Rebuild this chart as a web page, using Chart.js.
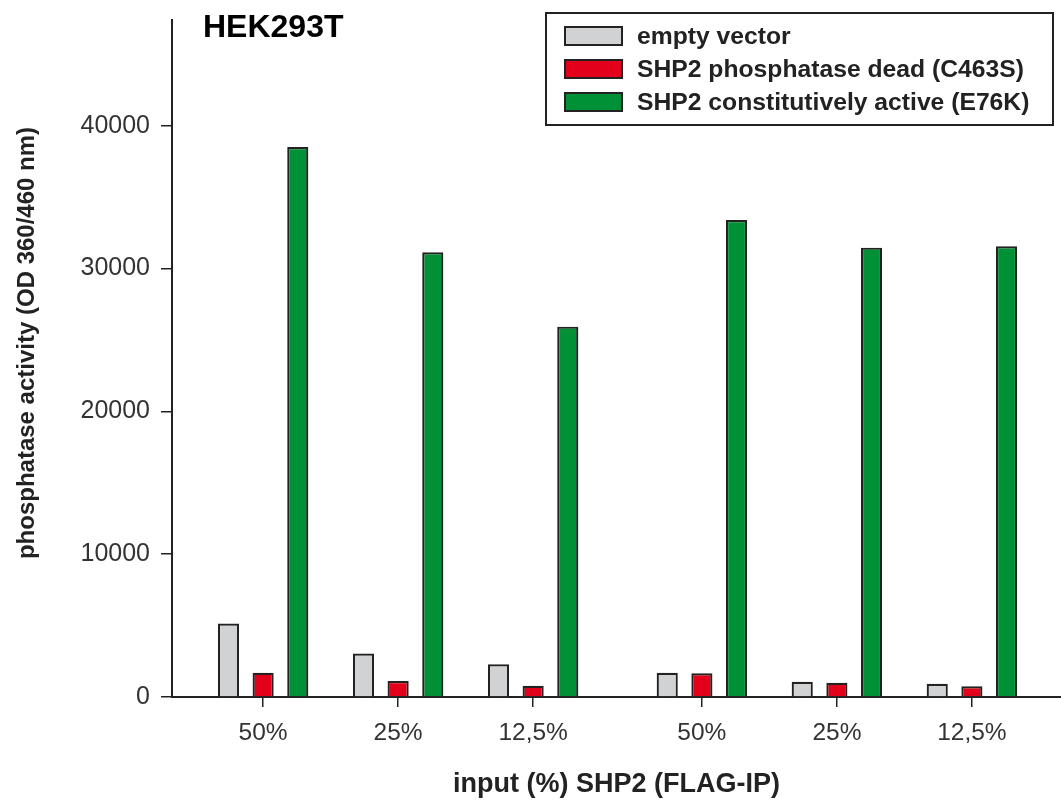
<!DOCTYPE html>
<html>
<head>
<meta charset="utf-8">
<script src="https://cdn.jsdelivr.net/npm/chart.js@4/dist/chart.umd.min.js"></script>
<style>
  html, body { margin: 0; padding: 0; background: #ffffff; }
  #wrap { width: 1061px; height: 803px; }
</style>
</head>
<body>
<div id="wrap"><canvas id="chart" width="1061" height="803"></canvas></div>
<script>
// Input amounts of precipitated SHP2 (two independent series of dilutions)
const categories = ['50%', '25%', '12,5%', '50%', '25%', '12,5%'];
// Positions along the x axis: the second dilution series sits a little apart
const positions = [0, 1, 2, 3.25, 4.25, 5.25];

// Phosphatase activity (OD 360/460 nm)
const emptyVector = [5150, 3050, 2290, 1700, 1070, 930];
const phosphataseDead = [1700, 1120, 790, 1660, 1000, 750];
const constitutivelyActive = [38500, 31140, 25930, 33400, 31460, 31560];

const yTicks = [0, 10000, 20000, 30000, 40000];
const seriesNames = ['empty vector', 'SHP2 phosphatase dead (C463S)', 'SHP2 constitutively active (E76K)'];
const seriesColors = ['#d1d2d4', '#e2001a', '#009035'];
const cellLine = 'HEK293T';
const xTitle = 'input (%) SHP2 (FLAG-IP)';
const yTitle = 'phosphatase activity (OD 360/460 nm)';

const FONT = '"Liberation Sans", Arial, Helvetica, sans-serif';
const INK = '#222222';

function points(values) {
  return values.map((v, i) => ({ x: positions[i], y: v }));
}

// Boxed legend, cell line label and rotated y title
const annotations = {
  id: 'annotations',
  afterDraw(chart) {
    const ctx = chart.ctx;
    ctx.save();

    // cell line label
    ctx.fillStyle = '#000';
    ctx.font = 'bold 32px ' + FONT;
    ctx.textAlign = 'left';
    ctx.textBaseline = 'alphabetic';
    ctx.fillText(cellLine, 203, 37);

    // legend box
    ctx.lineWidth = 2;
    ctx.strokeStyle = INK;
    ctx.strokeRect(546, 13, 507, 112);
    const rows = [36, 69, 102];
    chart.data.datasets.forEach((ds, i) => {
      ctx.fillStyle = ds.backgroundColor;
      ctx.fillRect(565, rows[i] - 9, 57, 18);
      ctx.lineWidth = 2;
      ctx.strokeStyle = INK;
      ctx.strokeRect(565, rows[i] - 9, 57, 18);
      ctx.fillStyle = INK;
      ctx.font = 'bold 24.7px ' + FONT;
      ctx.textBaseline = 'middle';
      ctx.fillText(ds.label, 637, rows[i] + 1);
    });

    // y axis title
    ctx.translate(27, 343);
    ctx.rotate(-Math.PI / 2);
    ctx.textAlign = 'center';
    ctx.textBaseline = 'middle';
    ctx.fillStyle = INK;
    ctx.font = 'bold 24px ' + FONT;
    ctx.fillText(yTitle, 0, 0);
    ctx.restore();
  }
};

new Chart(document.getElementById('chart'), {
  type: 'bar',
  data: {
    datasets: [
      { label: seriesNames[0], data: points(emptyVector), backgroundColor: seriesColors[0] },
      { label: seriesNames[1], data: points(phosphataseDead), backgroundColor: seriesColors[1] },
      { label: seriesNames[2], data: points(constitutivelyActive), backgroundColor: seriesColors[2] }
    ].map(ds => Object.assign(ds, {
      borderColor: INK,
      borderWidth: 2.2,
      borderSkipped: 'bottom',
      categoryPercentage: 0.77,
      barPercentage: 0.61
    }))
  },
  options: {
    responsive: false,
    animation: false,
    devicePixelRatio: 1,
    layout: { padding: { top: 20, right: 0, left: 0, bottom: 0 } },
    plugins: {
      legend: { display: false },
      tooltip: { enabled: false }
    },
    scales: {
      x: {
        type: 'linear',
        min: -0.675,
        max: 5.91,
        offset: false,
        afterFit(scale) {
          scale.height = 106;
          scale.paddingLeft = 0;
          scale.paddingRight = 0;
        },
        afterBuildTicks(scale) { scale.ticks = positions.map(v => ({ value: v })); },
        ticks: {
          autoSkip: false,
          maxRotation: 0,
          padding: 12,
          color: '#333',
          font: { family: FONT, size: 24.5 },
          callback(value) {
            const i = positions.indexOf(value);
            return i >= 0 ? categories[i] : '';
          }
        },
        grid: { offset: false, drawOnChartArea: false, drawTicks: true, tickLength: 10, color: INK, lineWidth: 1.5 },
        border: { display: true, color: INK, width: 2 },
        title: {
          display: true,
          text: xTitle,
          color: INK,
          font: { family: FONT, size: 27, weight: 'bold' },
          padding: { top: 0, bottom: 2 }
        }
      },
      y: {
        min: 0,
        max: 47400,
        afterFit(scale) {
          scale.width = 172;
          scale.paddingTop = 0;
          scale.paddingBottom = 0;
        },
        afterBuildTicks(scale) { scale.ticks = yTicks.map(v => ({ value: v })); },
        ticks: {
          padding: 11,
          color: '#333',
          font: { family: FONT, size: 25 },
          callback(value) { return String(value); }
        },
        grid: { drawOnChartArea: false, drawTicks: true, tickLength: 11, color: INK, lineWidth: 1.5 },
        border: { display: true, color: INK, width: 2 }
      }
    }
  },
  plugins: [annotations]
});
</script>
</body>
</html>
